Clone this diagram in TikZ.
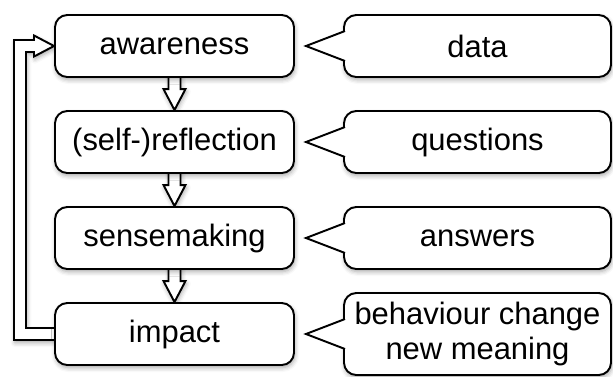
\documentclass[tikz,border=0pt]{standalone}
\usepackage{fontspec}
\setsansfont{Liberation Sans}
\usetikzlibrary{calc, backgrounds, shadows.blur}

\begin{document}
\begin{tikzpicture}[node distance=1.92cm, every node/.style={font=\sffamily\fontsize{17.6}{20}\selectfont},
    soft shadow/.style={blur shadow={shadow xshift=0.5pt, shadow yshift=-1.5pt, shadow blur radius=2.5pt, shadow opacity=35}},
    stage/.style={draw, line width=1.1pt, fill=white, rounded corners=7pt, minimum width=4.78cm, minimum height=1.24cm, soft shadow},
    note/.style={draw, line width=1.1pt, fill=white, rounded corners=7pt, outer sep=0pt, align=center, minimum width=5.34cm, minimum height=1.24cm, soft shadow},
    pointer/.style={draw, line width=1.1pt, fill=white},
    hollow/.style={draw, line width=1.1pt, fill=white, soft shadow}]
    \useasboundingbox (-3.49,0.92) rectangle (8.77,-6.6);

    % Stages (vertical layout)
    \node[stage] (aw) {awareness};
    \node[stage, below of=aw] (refl) {(self-)reflection};
    \node[stage, below of=refl] (sense) {sensemaking};
    \node[stage, below of=sense] (impact) {impact};

    % What each stage works with
    \node[note, right of=aw, node distance=6.06cm] (data) {data};
    \node[note, right of=refl, node distance=6.06cm] (questions) {questions};
    \node[note, right of=sense, node distance=6.06cm] (answers) {answers};
    \node[note, right of=impact, node distance=6.06cm, minimum height=1.64cm] (change) {behaviour change\\new meaning};

    % Speech bubble pointers
    \draw[pointer] ($(data.west)+(0.02,0.3)$) -- ($(aw.east)+(0.22,0)$) -- ($(data.west)+(0.02,-0.3)$);
    \draw[pointer] ($(questions.west)+(0.02,0.3)$) -- ($(refl.east)+(0.22,0)$) -- ($(questions.west)+(0.02,-0.3)$);
    \draw[pointer] ($(answers.west)+(0.02,0.3)$) -- ($(sense.east)+(0.22,0)$) -- ($(answers.west)+(0.02,-0.3)$);
    \draw[pointer] ($(change.west)+(0.02,0.3)$) -- ($(impact.east)+(0.22,0)$) -- ($(change.west)+(0.02,-0.3)$);

    \begin{scope}[on background layer]
    % Flow between stages
    \draw[hollow] ($(aw.south)+(-0.12,0.1)$) -- ($(refl.north)+(-0.12,0.42)$) -- ++(-0.1,0) -- (refl.north) -- ++(0.22,0.42) -- ++(-0.1,0) -- ($(aw.south)+(0.12,0.1)$) -- cycle;
    \draw[hollow] ($(refl.south)+(-0.12,0.1)$) -- ($(sense.north)+(-0.12,0.42)$) -- ++(-0.1,0) -- (sense.north) -- ++(0.22,0.42) -- ++(-0.1,0) -- ($(refl.south)+(0.12,0.1)$) -- cycle;
    \draw[hollow] ($(sense.south)+(-0.12,0.1)$) -- ($(impact.north)+(-0.12,0.42)$) -- ++(-0.1,0) -- (impact.north) -- ++(0.22,0.42) -- ++(-0.1,0) -- ($(sense.south)+(0.12,0.1)$) -- cycle;

    % Feedback loop
    \draw[hollow] ($(impact.west)+(0.1,0.12)$) -| ($(aw.west)+(-0.56,-0.12)$) -- ($(aw.west)+(-0.4,-0.12)$) -- ++(0,-0.09) -- (aw.west) -- ++(-0.4,0.21) -- ++(0,-0.09) -| ($(impact.west)+(-0.8,-0.12)$) -- ($(impact.west)+(0.1,-0.12)$) -- cycle;
    \end{scope}
  \end{tikzpicture}
\end{document}
